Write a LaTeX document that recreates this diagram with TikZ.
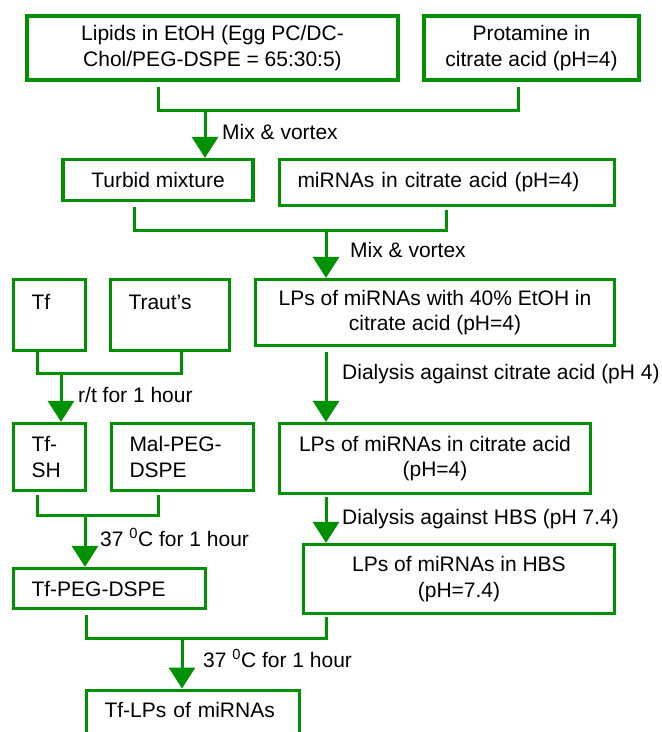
\documentclass[tikz,border=0pt]{standalone}
\usepackage{fontspec}
\setmainfont{Liberation Sans}
\usetikzlibrary{arrows.meta}
\definecolor{grn}{RGB}{0,145,0}
\begin{document}
\begin{tikzpicture}[x=1pt,y=-1pt,
  every node/.style={font=\fontsize{21}{25.5}\selectfont},
  box/.style={draw=grn, line width=3.2pt, inner xsep=0pt, inner ysep=0pt, align=center},
  lbox/.style={draw=grn, line width=3.2pt, inner xsep=18pt, inner ysep=0pt, align=left},
  ln/.style={draw=grn, line width=3pt},
  arr/.style={ln, -{Triangle[width=26pt,length=21pt]}},
  lab/.style={anchor=base west, inner sep=0pt}
]
\useasboundingbox (0,0) rectangle (662,732);
\clip (0,0) rectangle (662,732);

% boxes
\node[box, minimum width=371pt, minimum height=64pt] (lipids) at (212.5,48) {Lipids in EtOH (Egg PC/DC-\\Chol/PEG-DSPE = 65:30:5)};
\node[box, minimum width=215pt, minimum height=64pt] (prot) at (531.5,48) {Protamine in\\citrate acid (pH=4)};
\node[box, minimum width=190pt, minimum height=41pt] (turbid) at (158,180) {Turbid mixture};
\node[lbox, text width=299pt, minimum height=46pt] (mir) at (447,182.5) {miRNAs in citrate acid (pH=4)};
\node[lbox, text width=36pt, minimum height=71pt] (tf) at (49.5,315) {Tf\\~};
\node[lbox, text width=83pt, minimum height=71pt] (traut) at (170,315) {Traut’s\\~};
\node[box, minimum width=359pt, minimum height=66pt] (lp40) at (435,312.5) {LPs of miRNAs with 40\% EtOH in\\citrate acid (pH=4)};
\node[lbox, text width=36pt, minimum height=67pt] (tfsh) at (49.5,457) {Tf-\\SH};
\node[lbox, text width=106pt, minimum height=67pt] (mal) at (182.5,457) {Mal-PEG-\\DSPE};
\node[box, minimum width=311pt, minimum height=70pt] (lpcit) at (435,458.5) {LPs of miRNAs in citrate acid\\(pH=4)};
\node[lbox, text width=156pt, minimum height=40pt] (tfpeg) at (109.5,588.5) {Tf-PEG-DSPE};
\node[box, minimum width=311pt, minimum height=69pt] (lphbs) at (459,579) {LPs of miRNAs in HBS\\(pH=7.4)};
\node[lbox, text width=177pt, minimum height=65pt, anchor=north] (tflp) at (193,688.5) {Tf-LPs of miRNAs\\~};

% A
\coordinate (j1) at (205,110);
\draw[ln, shorten <=5pt, shorten >=5pt] (lipids.south -| 158,0) |- (j1) -| (prot.south -| 518,0);
\draw[arr] (j1) -- (turbid.north -| j1);
\node[lab] at (222,139) {Mix \& vortex};

% B
\coordinate (j2) at (326,230);
\draw[ln, shorten <=5pt, shorten >=3pt] (turbid.south -| 134,0) |- (j2) -| (mir.south -| 446,0);
\draw[arr] (j2) -- (lp40.north -| j2);
\node[lab] at (350,257) {Mix \& vortex};

% C
\coordinate (j3) at (61,373);
\draw[ln] (tf.south -| 37,0) |- (j3) -| (traut.south -| 181,0);
\draw[arr] (j3) -- (tfsh.north -| j3);
\node[lab] at (78,402) {r/t for 1 hour};

% D
\draw[arr, shorten <=5pt] (lp40.south -| 326,0) -- (lpcit.north -| 326,0);
\node[lab] at (342,379) {Dialysis against citrate acid (pH 4)};

% E
\coordinate (j5) at (85,515);
\draw[ln, shorten <=3pt, shorten >=3pt] (tfsh.south -| 37,0) |- (j5) -| (mal.south -| 158,0);
\draw[arr] (j5) -- (tfpeg.north -| j5);
\node[lab] at (100,546) {37 \textsuperscript{0}C for 1 hour};

% F
\draw[arr, shorten <=2pt] (lpcit.south -| 326,0) -- (lphbs.north -| 326,0);
\node[lab] at (342,524) {Dialysis against HBS (pH 7.4)};

% G
\coordinate (j7) at (182,638);
\draw[ln, shorten <=5pt, shorten >=2pt] (tfpeg.south -| 86,0) |- (j7) -| (lphbs.south -| 326,0);
\draw[arr] (j7) -- (tflp.north -| j7);
\node[lab] at (203,667) {37 \textsuperscript{0}C for 1 hour};
\end{tikzpicture}
\end{document}
